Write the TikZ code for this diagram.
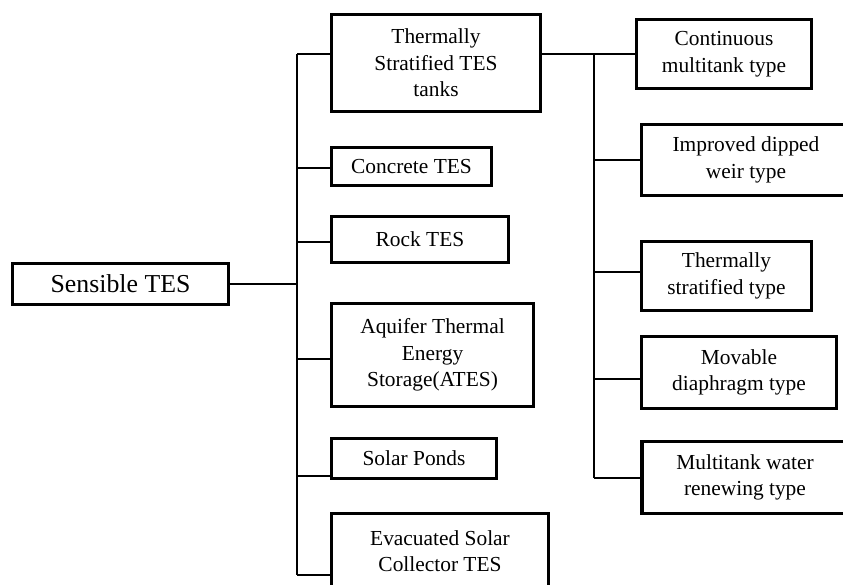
\documentclass[tikz,border=0pt]{standalone}
\usepackage{fontspec}
\setmainfont{Liberation Serif}
\begin{document}
\begin{tikzpicture}[x=1pt,y=-1pt,
  box/.style={draw=black, line width=3.3pt, rectangle, inner sep=0pt, align=center,
    font=\fontsize{21.4}{26.5}\selectfont, text=black},
  rootbox/.style={box, font=\fontsize{25.8}{31}\selectfont},
  link/.style={draw=black, line width=1.5pt}]
\useasboundingbox (0,0) rectangle (843,585);
\clip (0,0) rectangle (843,585);

% root
\node[rootbox, minimum width=215.6pt, minimum height=40.6pt] (sens) at (120.5,284) {Sensible TES};

% first level
\node[box, minimum width=208.6pt, minimum height=96.6pt] (tst) at (436,63) {Thermally\\Stratified TES\\tanks};
\node[box, minimum width=159.6pt, minimum height=37.6pt] (conc) at (411.5,166.5) {Concrete TES};
\node[box, minimum width=176.6pt, minimum height=45.6pt] (rock) at (420,239.5) {Rock TES};
\node[box, minimum width=201.6pt, minimum height=102.6pt] (aqui) at (432.5,355) {Aquifer Thermal\\Energy\\Storage(ATES)};
\node[box, minimum width=164.6pt, minimum height=39.6pt] (pond) at (414,458.5) {Solar Ponds};
\node[box, minimum width=216.6pt, minimum height=74.6pt] (evac) at (440,551) {Evacuated Solar\\Collector TES};

% second level (tank types)
\node[box, minimum width=174.6pt, minimum height=68.6pt] (cont) at (724,54) {Continuous\\multitank type};
\node[box, minimum width=208.6pt, minimum height=70.6pt] (dip) at (746,160) {Improved dipped\\weir type};
\node[box, minimum width=169.6pt, minimum height=68.6pt] (strat) at (726.5,276) {Thermally\\stratified type};
\node[box, minimum width=194.6pt, minimum height=71.6pt] (mov) at (739,372.5) {Movable\\diaphragm type};
\node[box, minimum width=206pt, minimum height=71.6pt] (multi) at (745,477.5) {Multitank water\\renewing type};

% trunk junctions of the first level
\coordinate (r0) at (297,284);
\coordinate (r1) at (297,54);
\coordinate (r2) at (297,168);
\coordinate (r3) at (297,242);
\coordinate (r4) at (297,359);
\coordinate (r5) at (297,476);
\coordinate (r6) at (297,575);

% trunk junctions of the second level
\coordinate (s0) at (594,54);
\coordinate (s1) at (594,160);
\coordinate (s2) at (594,272);
\coordinate (s3) at (594,379);
\coordinate (s4) at (594,478);

% first-level connectors
\draw[link] (sens.east |- r0) -- (r0);
\draw[link] (r1) -- (r6);
\draw[link] (r1) -- (r1 -| tst.west);
\draw[link] (r2) -- (r2 -| conc.west);
\draw[link] (r3) -- (r3 -| rock.west);
\draw[link] (r4) -- (r4 -| aqui.west);
\draw[link] (r5) -- (r5 -| pond.west);
\draw[link] (r6) -- (r6 -| evac.west);

% second-level connectors
\draw[link] (tst.east |- s0) -- (s0 -| cont.west);
\draw[link] (s0) -- (s4);
\draw[link] (s1) -- (s1 -| dip.west);
\draw[link] (s2) -- (s2 -| strat.west);
\draw[link] (s3) -- (s3 -| mov.west);
\draw[link] (s4) -- (s4 -| multi.west);
\end{tikzpicture}
\end{document}
